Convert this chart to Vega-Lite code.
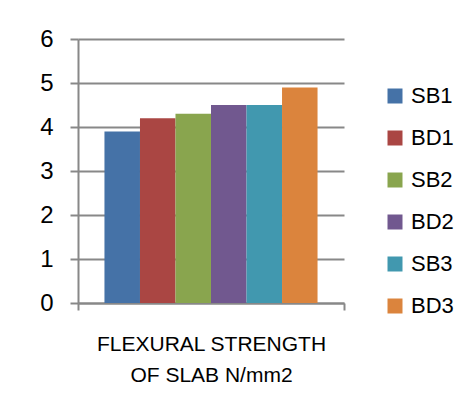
{
  "$schema": "https://vega.github.io/schema/vega-lite/v6.json",
  "width": 266,
  "height": 264,
  "autosize": "none",
  "padding": {"left": 78, "top": 39, "right": 126, "bottom": 116},
  "background": "white",
  "config": {
    "view": {"stroke": null},
    "font": "Liberation Sans"
  },
  "data": {
    "values": [
      {"category": "FLEXURAL STRENGTH OF SLAB N/mm2", "series": "SB1", "value": 3.9},
      {"category": "FLEXURAL STRENGTH OF SLAB N/mm2", "series": "BD1", "value": 4.2},
      {"category": "FLEXURAL STRENGTH OF SLAB N/mm2", "series": "SB2", "value": 4.3},
      {"category": "FLEXURAL STRENGTH OF SLAB N/mm2", "series": "BD2", "value": 4.5},
      {"category": "FLEXURAL STRENGTH OF SLAB N/mm2", "series": "SB3", "value": 4.5},
      {"category": "FLEXURAL STRENGTH OF SLAB N/mm2", "series": "BD3", "value": 4.9}
    ]
  },
  "mark": {"type": "bar"},
  "encoding": {
    "x": {
      "field": "category",
      "type": "nominal",
      "scale": {"paddingInner": 0, "paddingOuter": 0},
      "axis": {
        "title": null,
        "labelAngle": 0,
        "labelExpr": "[slice(datum.label, 0, 17), slice(datum.label, 18)]",
        "labelFontSize": 21,
        "labelLineHeight": 31,
        "labelLimit": 0,
        "labelColor": "black",
        "labelPadding": 23,
        "tickBand": "extent",
        "tickSize": 7,
        "tickWidth": 2,
        "tickColor": "#888888",
        "domainColor": "#888888",
        "domainWidth": 2,
        "grid": false
      }
    },
    "xOffset": {
      "field": "series",
      "type": "nominal",
      "sort": ["SB1", "BD1", "SB2", "BD2", "SB3", "BD3"],
      "scale": {"paddingInner": 0, "paddingOuter": 0.745}
    },
    "y": {
      "field": "value",
      "type": "quantitative",
      "scale": {"domain": [0, 6], "nice": false},
      "axis": {
        "title": null,
        "values": [0, 1, 2, 3, 4, 5, 6],
        "labelFontSize": 24,
        "labelColor": "black",
        "labelPadding": 17,
        "tickSize": 8,
        "tickWidth": 2,
        "tickColor": "#888888",
        "domainColor": "#888888",
        "domainWidth": 2,
        "gridColor": "#888888",
        "gridWidth": 2,
        "gridOpacity": 1
      }
    },
    "color": {
      "field": "series",
      "type": "nominal",
      "sort": ["SB1", "BD1", "SB2", "BD2", "SB3", "BD3"],
      "scale": {
        "domain": ["SB1", "BD1", "SB2", "BD2", "SB3", "BD3"],
        "range": ["#4572A7", "#AA4643", "#89A54E", "#71588F", "#4198AF", "#DB843D"]
      },
      "legend": {
        "title": null,
        "orient": "none",
        "legendX": 306,
        "legendY": 46,
        "symbolType": "square",
        "symbolSize": 225,
        "symbolStrokeWidth": 0,
        "labelFontSize": 22,
        "labelColor": "black",
        "labelOffset": 5,
        "rowPadding": 20,
        "padding": 0
      }
    }
  }
}
